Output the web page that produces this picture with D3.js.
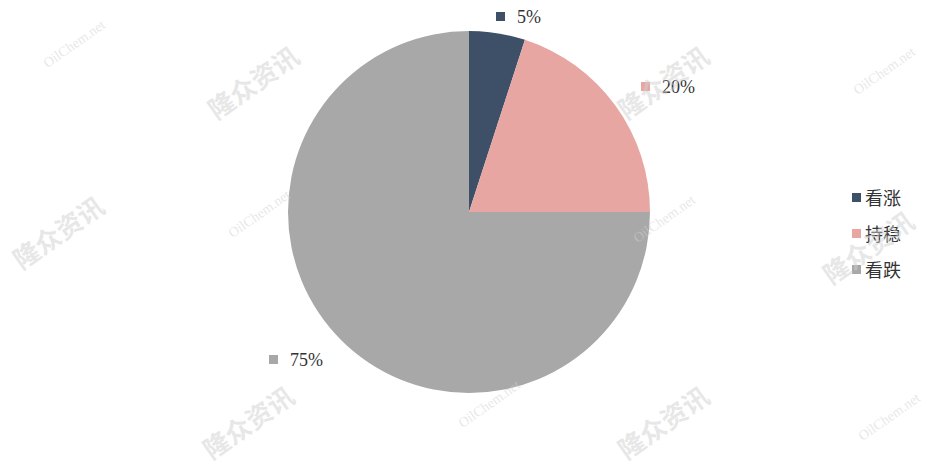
<!DOCTYPE html>
<html><head><meta charset="utf-8">
<script src="https://cdn.jsdelivr.net/npm/d3@7"></script>
<style>body{margin:0;background:#fff}svg{display:block}</style>
</head><body>
<script>
const categories = ["看涨", "持稳", "看跌"];
const values = [5, 20, 75];
const labels = ["5%", "20%", "75%"];
const colors = ["#3e5068", "#e8a6a3", "#a8a8a8"];

const W = 940, H = 470;
const svg = d3.select("body").append("svg").attr("width", W).attr("height", H);
svg.append("rect").attr("width", W).attr("height", H).attr("fill", "#fff");

const cx = 469, cy = 212, r = 181;
const pie = d3.pie().sort(null).value(d => d)(values);
const arc = d3.arc().innerRadius(0).outerRadius(r);
const g = svg.append("g").attr("transform", `translate(${cx},${cy})`);
g.selectAll("path").data(pie).join("path").attr("d", arc).attr("fill", (d,i) => colors[i]);

// data labels
const labelPos = [[500, 17], [645, 87], [273, 360]];
pie.forEach((d, i) => {
  const [x, y] = labelPos[i];
  svg.append("rect").attr("x", x - 4).attr("y", y - 5).attr("width", 9).attr("height", 9).attr("fill", colors[i]);
  svg.append("text").attr("x", x + 17).attr("y", y + 6)
    .attr("font-family", "Liberation Serif, DejaVu Serif").attr("font-size", 18)
    .attr("fill", "#333").text(labels[i]);
});

// legend
const legend = svg.append("g").attr("transform", "translate(852,198)");
categories.forEach((c, i) => {
  const y = i * 36;
  legend.append("rect").attr("x", 0).attr("y", y - 5).attr("width", 9).attr("height", 9).attr("fill", colors[i]);
  legend.append("text").attr("x", 13).attr("y", y + 7)
    .attr("font-family", "Noto Sans CJK SC").attr("font-size", 18)
    .attr("fill", "#333").text(c);
});

// watermarks (on top, translucent)
const wmCN = [[255,85],[60,235],[665,85],[870,250],[250,425],[665,425]];
const wmEN = [[75,45],[260,215],[665,220],[885,72],[490,405],[890,418]];
const wm = svg.append("g").attr("pointer-events","none");
wmCN.forEach(([x,y]) => wm.append("text").attr("transform",`translate(${x},${y}) rotate(-35)`)
  .attr("text-anchor","middle").attr("dominant-baseline","middle")
  .attr("font-family","Noto Sans CJK SC").attr("font-weight","bold").attr("font-size",26)
  .attr("fill","#d0d0d0").attr("fill-opacity",0.5).text("隆众资讯"));
wmEN.forEach(([x,y]) => wm.append("text").attr("transform",`translate(${x},${y}) rotate(-35)`)
  .attr("text-anchor","middle").attr("dominant-baseline","middle")
  .attr("font-family","Liberation Serif").attr("font-size",14)
  .attr("fill","#d0d0d0").attr("fill-opacity",0.5).text("OilChem.net"));
</script>
</body></html>
